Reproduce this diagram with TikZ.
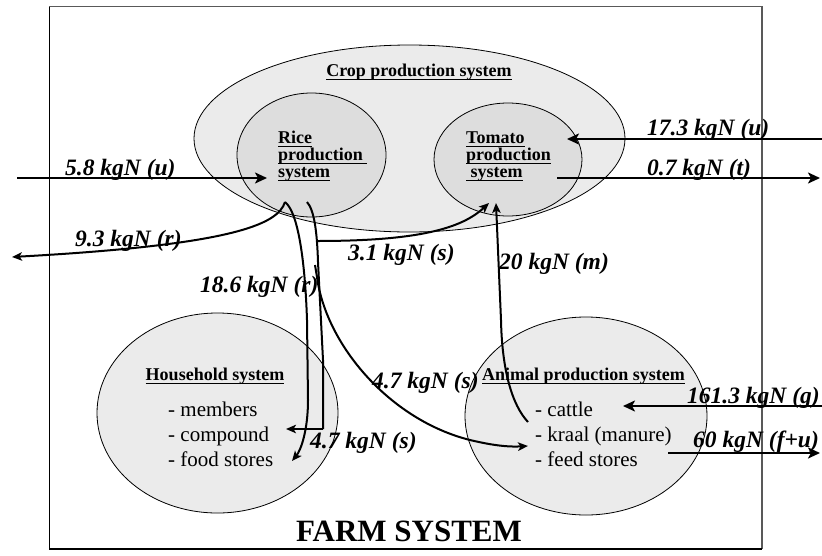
\documentclass[tikz,border=0pt]{standalone}
\usepackage{fontspec}
\setmainfont{Liberation Serif}
\usetikzlibrary{shapes.geometric,arrows.meta}

% underline at a fixed depth, independent of descenders
\newsavebox\ulbox
\newcommand\wordul[1]{\sbox\ulbox{#1}\rlap{\rule[-3.9pt]{\wd\ulbox}{1.4pt}}\usebox\ulbox}

\definecolor{outerfill}{gray}{0.92}
\definecolor{innerfill}{gray}{0.865}
\definecolor{framegray}{gray}{0.35}

\tikzset{
  sys/.style={ellipse, draw=black, line width=0.8pt, inner sep=0pt, outer sep=0pt},
  ttl/.style={font=\fontsize{18}{18}\selectfont\bfseries, inner sep=0pt, anchor=base west},
  itm/.style={font=\fontsize{21}{21}\selectfont, inner sep=0pt, anchor=base west},
  flowlbl/.style={font=\fontsize{23.5}{23.5}\selectfont\bfseries\itshape, inner sep=0pt, anchor=base west},
  bigflow/.style={line width=2.8pt, -{Stealth[length=12pt,width=11pt,inset=3pt]}},
  curflow/.style={line width=2pt, -{Stealth[length=10pt,width=8.5pt,inset=2.5pt]}},
  plainflow/.style={line width=2pt},
}

\begin{document}
\begin{tikzpicture}[x=1pt,y=-1pt]
\useasboundingbox (0,0) rectangle (822,555);

% farm boundary
\draw[framegray, line width=1.5pt] (49.5,549) -- (49.5,6.5) -- (762,6.5) -- (762,549);
\draw[black, line width=1.5pt] (49.5,6.5) -- (49.5,549) -- (762,549);

% sub-systems
\node[sys, fill=outerfill, minimum width=431pt, minimum height=187pt] (crop) at (409.5,138.5) {};
\node[sys, fill=innerfill, minimum width=149pt, minimum height=124pt] (rice) at (311.5,155) {};
\node[sys, fill=innerfill, minimum width=148pt, minimum height=113pt] (tomato) at (508,159.5) {};
\node[sys, fill=outerfill, minimum width=241pt, minimum height=200pt] (house) at (217.5,413) {};
\node[sys, fill=outerfill, minimum width=242pt, minimum height=198pt] (animal) at (586,416) {};

% titles and contents
\node[ttl, anchor=base] (cropT) at (419,76.5) {\wordul{Crop production system}};
\node[ttl] (riceT1) at (278,143) {\wordul{Rice}};
\node[ttl] (riceT2) at (278,160) {\wordul{production\ }};
\node[ttl] (riceT3) at (278,177) {\wordul{system}};
\node[ttl] (tomT1) at (466,143) {\wordul{Tomato}};
\node[ttl] (tomT2) at (466,160) {\wordul{production}};
\node[ttl] (tomT3) at (466,177) {\wordul{\ system}};
\node[ttl, anchor=base] (houseT) at (215,380) {\wordul{Household system}};
\node[itm] (h1) at (168,416) {- members};
\node[itm] (h2) at (168,441) {- compound};
\node[itm] (h3) at (168,466) {- food stores};
\node[ttl] (animalT) at (482,380) {\wordul{Animal production system}};
\node[itm] (a1) at (535,416) {- cattle};
\node[itm] (a2) at (535,441) {- kraal (manure)};
\node[itm] (a3) at (535,466) {- feed stores};
\node[font=\fontsize{31}{31}\selectfont\bfseries, inner sep=0pt, anchor=base] (farm) at (409,541.5) {FARM SYSTEM};

% flow end points
\coordinate (inU) at (17,178);
\coordinate (riceIn) at (267,178);
\coordinate (inT) at (824,139);
\coordinate (tomIn) at (567,139);
\coordinate (tomOut) at (557,178);
\coordinate (outT) at (820,178);
\coordinate (riceOut) at (285,202);
\coordinate (offR) at (12,257);
\coordinate (hhFood) at (292,461);
\coordinate (riceOut2) at (307,202);
\coordinate (split) at (317,241);
\coordinate (tomS) at (489,203);
\coordinate (hhComp) at (286,429);
\coordinate (splitB) at (315,265);
\coordinate (anKraal) at (528,446);
\coordinate (anCattle) at (528,422);
\coordinate (tomM) at (496,203);
\coordinate (inG) at (824,406);
\coordinate (anG) at (623,406);
\coordinate (anOut) at (668,453);
\coordinate (outFU) at (820,453);

% straight flows across the boundary
\draw[bigflow] (inU) -- (riceIn);
\draw[bigflow] (inT) -- (tomIn);
\draw[bigflow] (tomOut) -- (outT);
\draw[bigflow] (inG) -- (anG);
\draw[bigflow] (anOut) -- (outFU);

% rice residues
\draw[curflow] (riceOut) .. controls (278,225) and (230,245) .. (offR);
\draw[curflow] (riceOut) .. controls (298,212) and (305,260) .. (307,320)
  -- (308,400) .. controls (308,430) and (301,450) .. (hhFood);
% rice straw to household and tomato
\draw[plainflow] (riceOut2) .. controls (314,210) and (317,230) .. (318,262) -- (323,360) -- (323,429);
\draw[curflow] (323,429) -- (hhComp);
\draw[curflow] (split) .. controls (420,241) and (462,228) .. (tomS);
\draw[curflow] (splitB) -- (317,277) .. controls (326,345) and (390,420) .. (470,440)
  .. controls (495,446) and (510,447) .. (anKraal);
% manure to tomato
\draw[curflow] (anCattle) .. controls (512,405) and (502,370) .. (501,320) -- (tomM);

% flow labels
\node[flowlbl] (l58) at (65,175) {5.8 kgN (u)};
\node[flowlbl] (l173) at (647,135) {17.3 kgN (u)};
\node[flowlbl] (l07) at (647,175) {0.7 kgN (t)};
\node[flowlbl] (l93) at (75,246) {9.3 kgN (r)};
\node[flowlbl] (l31) at (348,260) {3.1 kgN (s)};
\node[flowlbl] (l186) at (200,292) {18.6 kgN (r)};
\node[flowlbl] (l20) at (499,269) {20 kgN (m)};
\node[flowlbl] (l47a) at (372,388) {4.7 kgN (s)};
\node[flowlbl] (l47b) at (310,448) {4.7 kgN (s)};
\node[flowlbl] (l161) at (687,403) {161.3 kgN (g)};
\node[flowlbl] (l60) at (693,447) {60 kgN (f+u)};
\end{tikzpicture}
\end{document}
